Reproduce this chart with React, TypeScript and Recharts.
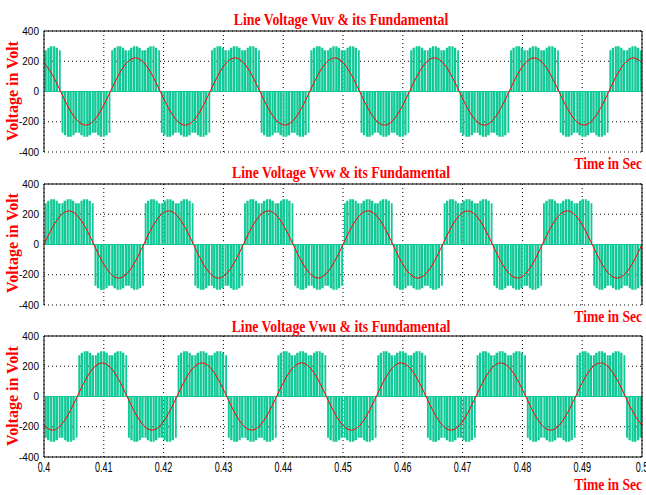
import {
  ComposedChart,
  Area,
  Line,
  XAxis,
  YAxis,
  CartesianGrid,
  ReferenceLine,
} from "recharts";

const TIME_TICKS = [0.4, 0.41, 0.42, 0.43, 0.44, 0.45, 0.46, 0.47, 0.48, 0.49, 0.5];
const VOLT_TICKS = [-400, -200, 0, 200, 400];

// fundamentals, read every 30 deg of the 60 Hz wave (1/720 s) from t = 0.4
const FUND_T0 = 0.4;
const FUND_STEP = 1 / 720;

const vuvFund = [
  192, 111, 0, -111, -192, -222, -192, -111, 0, 111, 192, 222,
  192, 111, 0, -111, -192, -222, -192, -111, 0, 111, 192, 222,
  192, 111, 0, -111, -192, -222, -192, -111, 0, 111, 192, 222,
  192, 111, 0, -111, -192, -222, -192, -111, 0, 111, 192, 222,
  192, 111, 0, -111, -192, -222, -192, -111, 0, 111, 192, 222,
  192, 111, 0, -111, -192, -222, -192, -111, 0, 111, 192, 222,
  192,
];

const vvwFund = [
  0, 111, 192, 222, 192, 111, 0, -111, -192, -222, -192, -111,
  0, 111, 192, 222, 192, 111, 0, -111, -192, -222, -192, -111,
  0, 111, 192, 222, 192, 111, 0, -111, -192, -222, -192, -111,
  0, 111, 192, 222, 192, 111, 0, -111, -192, -222, -192, -111,
  0, 111, 192, 222, 192, 111, 0, -111, -192, -222, -192, -111,
  0, 111, 192, 222, 192, 111, 0, -111, -192, -222, -192, -111,
  0,
];

const vwuFund = [
  -192, -222, -192, -111, 0, 111, 192, 222, 192, 111, 0, -111,
  -192, -222, -192, -111, 0, 111, 192, 222, 192, 111, 0, -111,
  -192, -222, -192, -111, 0, 111, 192, 222, 192, 111, 0, -111,
  -192, -222, -192, -111, 0, 111, 192, 222, 192, 111, 0, -111,
  -192, -222, -192, -111, 0, 111, 192, 222, 192, 111, 0, -111,
  -192, -222, -192, -111, 0, 111, 192, 222, 192, 111, 0, -111,
  -192,
];

// pwm blocks: polarity changes (s), first block polarity
const vuvEdges = [0.3944, 0.4028, 0.4111, 0.4194, 0.4278, 0.4361, 0.4444, 0.4528, 0.4611, 0.4694, 0.4778, 0.4861, 0.4944, 0.5028];
const vvwEdges = [0.4, 0.4083, 0.4167, 0.425, 0.4333, 0.4417, 0.45, 0.4583, 0.4667, 0.475, 0.4833, 0.4917, 0.5, 0.5083];
const vwuEdges = [0.3972, 0.4056, 0.4139, 0.4222, 0.4306, 0.4389, 0.4472, 0.4556, 0.4639, 0.4722, 0.4806, 0.4889, 0.4972, 0.5056];

// pulse tops inside one half cycle (dc link ripple) and the off-part of each pulse
const pulseLevels = [272, 290, 299, 299, 290, 272, 272, 290, 299, 299, 290, 272, 272, 290, 299, 299, 290, 272];
const pulseGaps = [0.3, 0.15, 0.25, 0.1, 0.2, 0.12, 0.3, 0.1, 0.18, 0.22, 0.1, 0.25, 0.12, 0.2, 0.1, 0.25, 0.15, 0.35];

const TEAL = "#10c997";
const RED = "#ff0000";
const SERIF = "'Liberation Serif', 'Times New Roman', serif";
const SANS = "'Liberation Sans', Arial, sans-serif";
const PAD = 8;

function buildPwm(edges: number[], firstSign: number) {
  const pts: { t: number; v: number }[] = [];
  for (let k = 0; k < edges.length - 1; k++) {
    const a = edges[k];
    const w = (edges[k + 1] - a) / pulseLevels.length;
    const sign = k % 2 === 0 ? firstSign : -firstSign;
    pulseLevels.forEach((lvl, i) => {
      const s = a + i * w;
      pts.push({ t: s, v: 0 });
      pts.push({ t: s + w * pulseGaps[i], v: sign * lvl });
    });
  }
  pts.push({ t: edges[edges.length - 1], v: 0 });
  return pts;
}

function VoltTick({ x, y, payload }: any) {
  return (
    <text x={x} y={y} dy={3.5} textAnchor="end" fontSize={10} fontFamily={SANS} fill="#000">
      {payload.value}
    </text>
  );
}

function TimeTick({ x, y, payload, show }: any) {
  if (!show) return <g />;
  return (
    <text
      transform={`translate(${x},${y + 15}) scale(0.6,1)`}
      textAnchor="middle"
      fontSize={15}
      fontFamily={SANS}
      fill="#000"
    >
      {payload.value}
    </text>
  );
}

function Panel({ plotTop, fund, edges, firstSign, showTime }: any) {
  const pwm = buildPwm(edges, firstSign);
  const line = fund.map((v: number, i: number) => ({ t: FUND_T0 + i * FUND_STEP, v }));
  return (
    <div style={{ position: "absolute", left: 0, top: plotTop - PAD }}>
      <ComposedChart
        width={646}
        height={showTime ? PAD + 121 + 30 : PAD + 121 + PAD}
        margin={{ top: PAD, right: 4, bottom: showTime ? 0 : PAD, left: 4 }}
      >
        <CartesianGrid stroke="#000" strokeDasharray="1 3" />
        <XAxis
          type="number"
          dataKey="t"
          domain={[0.4, 0.5]}
          ticks={TIME_TICKS}
          interval={0}
          allowDataOverflow
          height={showTime ? 30 : 0}
          tick={(p: any) => <TimeTick {...p} show={showTime} />}
          tickSize={0}
          tickMargin={0}
          tickLine={false}
          axisLine={{ stroke: "#000" }}
        />
        <YAxis
          type="number"
          domain={[-400, 400]}
          ticks={VOLT_TICKS}
          interval={0}
          width={40}
          tick={(p: any) => <VoltTick {...p} />}
          tickSize={0}
          tickMargin={5}
          tickLine={false}
          axisLine={{ stroke: "#000" }}
        />
        <ReferenceLine y={0} stroke={TEAL} strokeWidth={1} />
        <Area
          data={pwm}
          dataKey="v"
          type="stepAfter"
          baseValue={0}
          fill={TEAL}
          fillOpacity={1}
          stroke="none"
          dot={false}
          activeDot={false}
          isAnimationActive={false}
        />
        <Line
          data={line}
          dataKey="v"
          type="natural"
          stroke={RED}
          strokeWidth={1}
          dot={false}
          activeDot={false}
          isAnimationActive={false}
        />
        <ReferenceLine y={400} stroke="#000" strokeWidth={1} />
        <ReferenceLine x={0.5} stroke="#000" strokeWidth={1} />
      </ComposedChart>
    </div>
  );
}

const panels = [
  { title: "Line Voltage Vuv & its Fundamental", plotTop: 31, fund: vuvFund, edges: vuvEdges, firstSign: 1, titleY: 25, timeY: 169, labelY: 91 },
  { title: "Line Voltage Vvw & its Fundamental", plotTop: 184, fund: vvwFund, edges: vvwEdges, firstSign: 1, titleY: 178, timeY: 322, labelY: 243 },
  { title: "Line Voltage Vwu & its Fundamental", plotTop: 336, fund: vwuFund, edges: vwuEdges, firstSign: -1, titleY: 332, timeY: 490, labelY: 396 },
];

export default function App() {
  return (
    <div
      style={{
        position: "absolute",
        left: 0,
        top: 0,
        width: 646,
        height: 495,
        background: "#fff",
        overflow: "hidden",
      }}
    >
      {panels.map((p, i) => (
        <Panel
          key={p.title}
          plotTop={p.plotTop}
          fund={p.fund}
          edges={p.edges}
          firstSign={p.firstSign}
          showTime={i === panels.length - 1}
        />
      ))}
      <svg
        width={646}
        height={495}
        style={{ position: "absolute", left: 0, top: 0, pointerEvents: "none" }}
      >
        {panels.map((p) => (
          <g key={p.title} fill={RED} fontFamily={SERIF} fontWeight="bold">
            <text transform={`translate(341,${p.titleY}) scale(0.81,1)`} textAnchor="middle" fontSize={17}>
              {p.title}
            </text>
            <text transform={`translate(642,${p.timeY}) scale(0.8,1)`} textAnchor="end" fontSize={17}>
              Time in Sec
            </text>
            <text transform={`translate(17.5,${p.labelY}) rotate(-90)`} textAnchor="middle" fontSize={16}>
              Voltage in Volt
            </text>
          </g>
        ))}
      </svg>
    </div>
  );
}
